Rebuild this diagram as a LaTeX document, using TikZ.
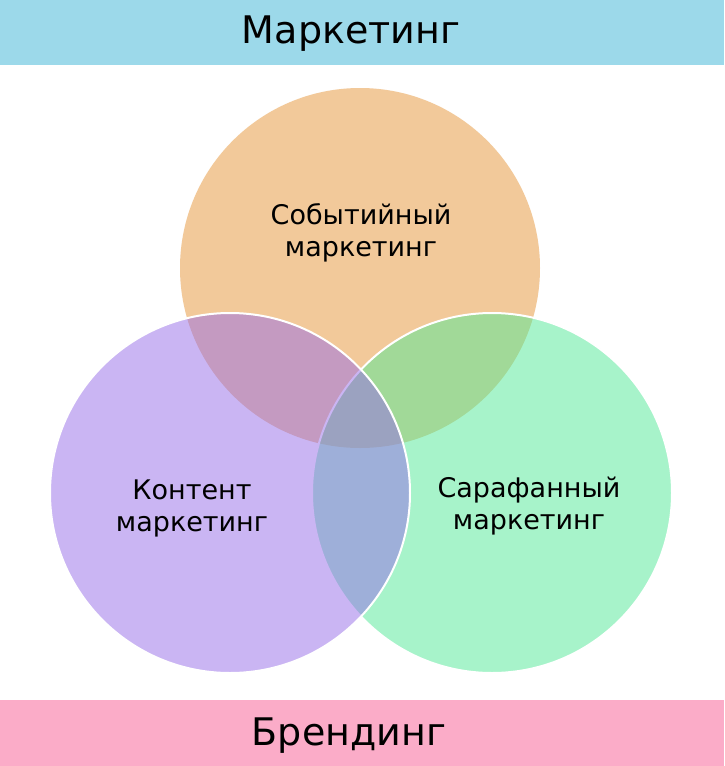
\documentclass[tikz,border=0pt]{standalone}
\usepackage{fontspec}
\setmainfont{DejaVu Sans}
\definecolor{bandblue}{RGB}{156,217,234}
\definecolor{bandpink}{RGB}{251,172,200}
\definecolor{corange}{RGB}{242,201,154}
\definecolor{cpurple}{RGB}{151,109,233}
\definecolor{cgreen}{RGB}{81,233,151}
\tikzset{
  band/.style={anchor=base, font=\fontsize{38}{44}\selectfont, text=black},
  lbl/.style={align=center, font=\fontsize{27}{32}\selectfont, text=black},
  venn/.style={draw=white, line width=2pt},
}
\begin{document}
\begin{tikzpicture}[x=1pt,y=-1pt]
\useasboundingbox (0,0) rectangle (724,766);
\fill[white] (0,0) rectangle (724,766);
\fill[bandblue] (0,0) rectangle (724,65);
\fill[bandpink] (0,700) rectangle (724,766);
\node[band] (title) at (351,43) {Маркетинг};
\node[band] (brand) at (349,745) {Брендинг};
% circles
\fill[corange] (360,268) circle (180);
\filldraw[venn, fill=cgreen, fill opacity=0.5] (492,493) circle (180);
\filldraw[venn, fill=cpurple, fill opacity=0.5] (230,493) circle (180);
% labels
\node[lbl] (ev) at (361,233) {Событийный\\маркетинг};
\node[lbl] (ct) at (192,508) {Контент\\маркетинг};
\node[lbl] (sf) at (529,506) {Сарафанный\\маркетинг};
\end{tikzpicture}
\end{document}
